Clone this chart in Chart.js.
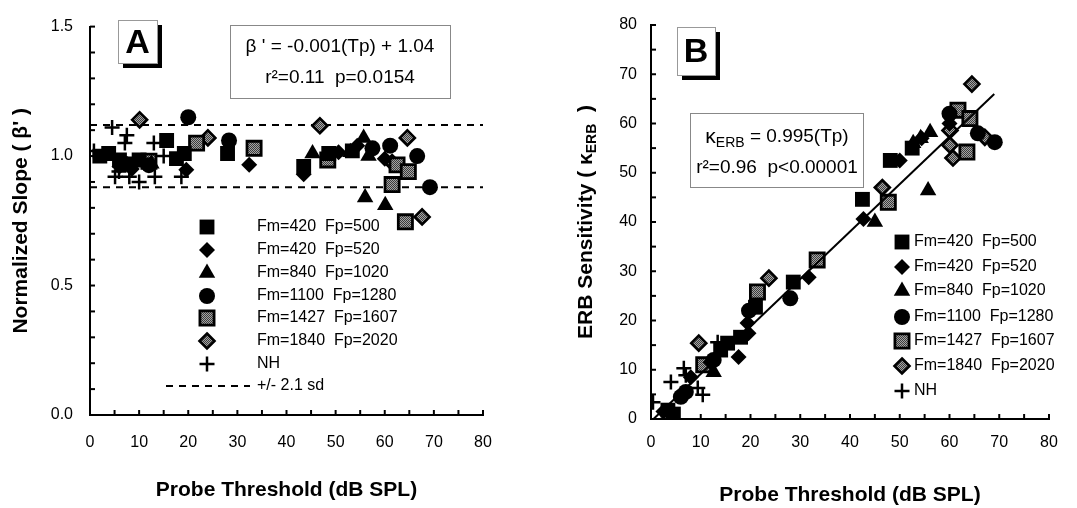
<!DOCTYPE html>
<html><head><meta charset="utf-8">
<script src="https://cdn.jsdelivr.net/npm/chart.js@4.4.0/dist/chart.umd.min.js"></script>
<style>
html,body{margin:0;padding:0;background:#fff;width:1077px;height:508px;overflow:hidden}
#wa{position:absolute;left:0;top:0;width:540px;height:508px}
#wb{position:absolute;left:540px;top:0;width:537px;height:508px}
</style></head><body>
<div id="wa"><canvas id="ca"></canvas></div>
<div id="wb"><canvas id="cb"></canvas></div>
<script>
// ---------- data ----------
const seriesLabels = ['Fm=420  Fp=500','Fm=420  Fp=520','Fm=840  Fp=1020','Fm=1100  Fp=1280','Fm=1427  Fp=1607','Fm=1840  Fp=2020','NH'];
const sdLabel = '+/- 2.1 sd';
const xTickLabels = ['0','10','20','30','40','50','60','70','80'];
const yTickLabelsA = ['0.0','0.5','1.0','1.5'];
const yTickLabelsB = ['0','10','20','30','40','50','60','70','80'];
const sdUpper = 1.12, sdLower = 0.88;
const fitLineB = [[0.5,0],[69,66]];

// Panel A : normalized slope vs probe threshold
const A_F420_500 = [[2,1.0],[3.8,1.01],[6,0.985],[8,0.97],[10,0.985],[15.6,1.06],[17.6,0.99],[19.2,1.01],[28,1.01],[43.5,0.96],[48.6,1.01],[53.4,1.02]];
const A_F420_520 = [[6,0.96],[8.5,0.95],[19.6,0.947],[32.4,0.966],[43.5,0.93],[50.6,1.015],[54.4,1.04],[60,0.99]];
const A_F840_1020 = [[12.5,0.97],[45.3,1.01],[53,1.015],[55.7,1.07],[56.7,1.0],[56,0.84],[60.1,0.81]];
const A_F1100_1280 = [[7,0.97],[12,0.965],[20,1.15],[28.3,1.06],[57.5,1.03],[61.1,1.04],[66.6,1.0],[69.2,0.88]];
const A_F1427_1607 = [[12,0.98],[21.7,1.05],[33.4,1.03],[48.4,0.985],[61.5,0.89],[62.5,0.966],[64.8,0.94],[64.2,0.746]];
const A_F1840_2020 = [[10.1,1.14],[24,1.07],[46.8,1.117],[61.5,0.975],[64.6,1.07],[67.6,0.765]];
const A_NH = [[0.8,1.02],[4.5,1.11],[7.5,1.08],[7.1,1.05],[5.1,0.92],[5.9,0.94],[8,0.92],[10,0.90],[13.2,0.92],[13,1.05],[15,1.0],[18.6,0.92]];

// Panel B : ERB sensitivity vs probe threshold
const B_F420_500 = [[3.4,1.8],[4.5,1.0],[14,14],[15.4,15.4],[18,16.6],[21,22.7],[28.6,27.8],[42.5,44.6],[48.1,52.5],[52.5,55]];
const B_F420_520 = [[2.5,1.5],[8,8.5],[12,11.5],[17.6,12.6],[19.4,19.5],[19.6,17.4],[31.7,28.8],[42.7,40.6],[50,52.5],[54.4,57],[60,60]];
const B_F840_1020 = [[12.6,9.5],[45,40],[52.7,56],[54.2,57],[55.7,46.4],[56.1,58.2]];
const B_F1100_1280 = [[6,4.5],[7,5.5],[12.6,12],[19.7,22],[28,24.5],[60,62],[65.7,58],[69.1,56.2]];
const B_F1427_1607 = [[10.6,11],[21.4,25.8],[33.4,32.3],[47.7,44],[61.7,62.7],[64.1,61],[63.5,54.2]];
const B_F1840_2020 = [[9.6,15.4],[23.7,28.6],[46.5,47],[60.1,58.6],[60.1,55.6],[60.7,53],[67.1,57.2],[64.5,68]];
const B_NH = [[0.4,3.4],[4,7.5],[6.6,10.3],[7,8.9],[9.4,6.3],[10.4,4.9],[13.4,15.6]];

// ---------- helpers ----------
const FF = '"Liberation Sans", Arial, Helvetica, sans-serif';
Chart.defaults.font.family = FF;
Chart.defaults.color = '#000';

function makeHatch(ctx){
  const c = document.createElement('canvas'); c.width = 2; c.height = 2;
  const g = c.getContext('2d');
  g.fillStyle = '#a4a4a4'; g.fillRect(0,0,2,2);
  g.fillStyle = '#3c3c3c'; g.fillRect(0,0,1,1); g.fillRect(1,1,1,1);
  return ctx.createPattern(c,'repeat');
}
function pts(arr){ return arr.map(p=>({x:p[0],y:p[1]})); }

function styles(hatch){
  return [
    {style:'rect', r:10.5, bg:'#000', bw:0},
    {style:'rectRot', r:8, bg:'#000', bw:0},
    {style:'triangle', r:9.5, bg:'#000', bw:0},
    {style:'circle', r:8, bg:'#000', bw:0},
    {style:'rect', r:10, bg:hatch, bw:2.8},
    {style:'rectRot', r:7.5, bg:hatch, bw:2.6},
    {style:'cross', r:7.5, bg:'#000', bw:2.5}
  ];
}

function drawMarker(ctx, st, x, y){
  ctx.save();
  ctx.fillStyle = st.bg; ctx.strokeStyle = '#000'; ctx.lineWidth = st.bw;
  ctx.beginPath();
  const r = st.r;
  if (st.style==='rect'){ const s=r*Math.SQRT1_2; ctx.rect(x-s,y-s,2*s,2*s); }
  else if (st.style==='rectRot'){ ctx.moveTo(x,y-r); ctx.lineTo(x+r,y); ctx.lineTo(x,y+r); ctx.lineTo(x-r,y); ctx.closePath(); }
  else if (st.style==='triangle'){ let a=0; ctx.moveTo(x+Math.sin(a)*r,y-Math.cos(a)*r); a+=2*Math.PI/3; ctx.lineTo(x+Math.sin(a)*r,y-Math.cos(a)*r); a+=2*Math.PI/3; ctx.lineTo(x+Math.sin(a)*r,y-Math.cos(a)*r); ctx.closePath(); }
  else if (st.style==='circle'){ ctx.arc(x,y,r,0,Math.PI*2); }
  else if (st.style==='cross'){ ctx.moveTo(x,y-r); ctx.lineTo(x,y+r); ctx.moveTo(x-r,y); ctx.lineTo(x+r,y); }
  if (st.style!=='cross') ctx.fill();
  if (st.bw>0) ctx.stroke();
  ctx.restore();
}

function seriesDatasets(lists, sts){
  return lists.map((arr,i)=>({
    label: seriesLabels[i], data: pts(arr), order: i+1,
    pointStyle: sts[i].style, pointRadius: sts[i].r, pointHoverRadius: sts[i].r,
    pointBackgroundColor: sts[i].bg, backgroundColor: sts[i].bg,
    pointBorderColor: '#000', borderColor: '#000', pointBorderWidth: sts[i].bw, pointHoverBorderWidth: sts[i].bw,
    showLine: false
  }));
}

const innerTicks = {
  id:'innerTicks',
  afterDatasetsDraw(chart){
    const ctx = chart.ctx; const {left,bottom} = chart.chartArea;
    ctx.save(); ctx.strokeStyle = '#000'; ctx.lineWidth = 2;
    const xs = chart.scales.x, ys = chart.scales.y;
    xs.ticks.forEach(t=>{ const px = xs.getPixelForValue(t.value); ctx.beginPath(); ctx.moveTo(px,bottom); ctx.lineTo(px,bottom-5); ctx.stroke(); });
    ys.ticks.forEach(t=>{ const py = ys.getPixelForValue(t.value); ctx.beginPath(); ctx.moveTo(left,py); ctx.lineTo(left+5,py); ctx.stroke(); });
    ctx.restore();
  }
};

function panelLabel(ctx, x0, y0, w, h, txt){
  ctx.save();
  ctx.fillStyle = '#000'; ctx.fillRect(x0+5, y0+5, w, h);
  ctx.fillStyle = '#fff'; ctx.fillRect(x0, y0, w, h);
  ctx.strokeStyle = '#999'; ctx.lineWidth = 1; ctx.strokeRect(x0+0.5, y0+0.5, w, h);
  ctx.fillStyle = '#000'; ctx.font = 'bold 34px '+FF; ctx.textAlign='center'; ctx.textBaseline='middle';
  ctx.fillText(txt, x0+w/2, y0+h/2+2);
  ctx.restore();
}

function scaleOpts(min,max,step,labels,isY,pad,titleText,titlePad,fit){
  return {
    type:'linear', min:min, max:max,
    grid:{display:false, drawTicks:false},
    border:{display:true, color:'#000', width:2},
    ticks:{stepSize:step, autoSkip:false, maxRotation:0, padding:pad, font:{size:16},
      callback:(v)=>{ const k=(v-min)/((max-min)/(labels.length-1)); return Math.abs(k-Math.round(k))<1e-6 ? labels[Math.round(k)] : ''; }},
    title:{display:!!titleText, text:titleText, font:{size:21, weight:'bold'}, padding:titlePad},
    afterFit:(s)=>{ if(isY) s.width = fit; else s.height = fit; }
  };
}

// ---------- Panel A ----------
const ctxA = document.getElementById('ca').getContext('2d');
const hatchA = makeHatch(ctxA);
const stA = styles(hatchA);
const listsA = [A_F420_500,A_F420_520,A_F840_1020,A_F1100_1280,A_F1427_1607,A_F1840_2020,A_NH];
const dsA = seriesDatasets(listsA, stA);
dsA.push({label:sdLabel, data:[{x:0,y:sdUpper},{x:80,y:sdUpper}], showLine:true, borderColor:'#000', borderWidth:2, borderDash:[7,6], pointRadius:0, order:20});
dsA.push({label:sdLabel+' (lower)', data:[{x:0,y:sdLower},{x:80,y:sdLower}], showLine:true, borderColor:'#000', borderWidth:2, borderDash:[7,6], pointRadius:0, order:21});

const decoA = {
  id:'decoA',
  afterDraw(chart){
    const ctx = chart.ctx;
    panelLabel(ctx, 118, 20, 39, 43, 'A');
    ctx.save();
    ctx.strokeStyle='#888'; ctx.lineWidth=1; ctx.strokeRect(230.5,25.5,220,73);
    ctx.fillStyle='#000'; ctx.font='19px '+FF; ctx.textAlign='center'; ctx.textBaseline='middle';
    ctx.fillText("\u03B2 ' = -0.001(Tp) + 1.04", 340, 47);
    ctx.fillText('r\u00B2=0.11  p=0.0154', 340, 78);
    // legend
    const rows=[227,250,273,296,318,341,364];
    ctx.font='16px '+FF; ctx.textAlign='left';
    rows.forEach((y,i)=>{ drawMarker(ctx, stA[i], 207, y); ctx.fillStyle='#000'; ctx.fillText(seriesLabels[i], 257, y); });
    ctx.strokeStyle='#000'; ctx.lineWidth=2; ctx.setLineDash([7,6]);
    ctx.beginPath(); ctx.moveTo(166,386); ctx.lineTo(250,386); ctx.stroke(); ctx.setLineDash([]);
    ctx.fillText(sdLabel, 257, 386);
    ctx.restore();
  }
};

new Chart(ctxA, {
  type:'scatter',
  data:{datasets:dsA},
  options:{
    responsive:true, maintainAspectRatio:false, animation:false, events:[],
    layout:{padding:{left:0,right:57,top:19,bottom:0}},
    plugins:{legend:{display:false}, tooltip:{enabled:false}},
    scales:{
      x: scaleOpts(0,80,5,xTickLabels,false,18,'Probe Threshold (dB SPL)',{top:0,bottom:5},93),
      y: scaleOpts(0,1.5,0.1,yTickLabelsA,true,17,"Normalized Slope ( \u03B2' )",{top:9,bottom:0},90)
    }
  },
  plugins:[innerTicks, decoA]
});

// ---------- Panel B ----------
const ctxB = document.getElementById('cb').getContext('2d');
const hatchB = makeHatch(ctxB);
const stB = styles(hatchB);
const listsB = [B_F420_500,B_F420_520,B_F840_1020,B_F1100_1280,B_F1427_1607,B_F1840_2020,B_NH];
const dsB = seriesDatasets(listsB, stB);
dsB.unshift({label:'fit', data:pts(fitLineB), showLine:true, borderColor:'#000', borderWidth:2, pointRadius:0, order:0});

function subText(ctx, parts, cx, cy, rotate){
  ctx.save();
  ctx.translate(cx, cy); if (rotate) ctx.rotate(-Math.PI/2);
  let total = 0;
  parts.forEach(p=>{ ctx.font = p[3]+' '+p[1]+'px '+FF; total += ctx.measureText(p[0]).width; });
  let x = -total/2;
  ctx.textAlign='left'; ctx.textBaseline='middle'; ctx.fillStyle='#000';
  parts.forEach(p=>{ ctx.font = p[3]+' '+p[1]+'px '+FF; ctx.fillText(p[0], x, p[2]); x += ctx.measureText(p[0]).width; });
  ctx.restore();
}

const decoB = {
  id:'decoB',
  afterDraw(chart){
    const ctx = chart.ctx;
    panelLabel(ctx, 137, 27, 38, 48, 'B');
    ctx.save();
    ctx.strokeStyle='#888'; ctx.lineWidth=1; ctx.strokeRect(150.5,113.5,173,74);
    subText(ctx, [['\u03BA',21,0,''],['ERB',14,6,''],[' = 0.995(Tp)',19,0,'']], 237, 137, false);
    ctx.font='19px '+FF; ctx.textAlign='center'; ctx.textBaseline='middle'; ctx.fillStyle='#000';
    ctx.fillText('r\u00B2=0.96  p<0.00001', 237, 168);
    // y title with subscript
    subText(ctx, [['ERB Sensitivity ( \u03BA',21,0,'bold'],['ERB',14,6,'bold'],['  )',21,0,'bold']], 46, 222, true);
    // legend
    const rows=[242,267,291,317,341,366,391];
    ctx.font='16px '+FF; ctx.textAlign='left';
    rows.forEach((y,i)=>{ drawMarker(ctx, stB[i], 362, y); ctx.fillStyle='#000'; ctx.fillText(seriesLabels[i], 374, y); });
    ctx.restore();
  }
};

new Chart(ctxB, {
  type:'scatter',
  data:{datasets:dsB},
  options:{
    responsive:true, maintainAspectRatio:false, animation:false, events:[],
    layout:{padding:{left:0,right:28,top:25,bottom:0}},
    plugins:{legend:{display:false}, tooltip:{enabled:false}},
    scales:{
      x: scaleOpts(0,80,5,xTickLabels,false,14,'Probe Threshold (dB SPL)',{top:0,bottom:0},89),
      y: scaleOpts(0,80,5,yTickLabelsB,true,14,'',{top:0,bottom:0},111)
    }
  },
  plugins:[innerTicks, decoB]
});
</script>
</body></html>
